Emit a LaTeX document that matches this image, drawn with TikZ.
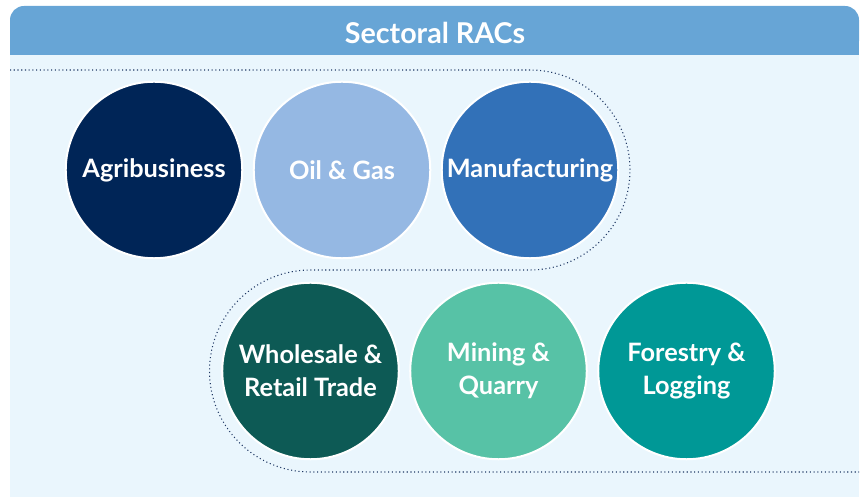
\documentclass[tikz,border=0pt]{standalone}
\usepackage{fontspec}
\setmainfont{Lato}
\usepackage{tikz}
\usetikzlibrary{positioning,calc}
\definecolor{headblue}{HTML}{67A5D6}
\definecolor{panelblue}{HTML}{EAF6FD}
\definecolor{agricol}{HTML}{002557}
\definecolor{oilcol}{HTML}{95B8E3}
\definecolor{manucol}{HTML}{3271B8}
\definecolor{tradecol}{HTML}{0D5A55}
\definecolor{minecol}{HTML}{57C2A6}
\definecolor{forestcol}{HTML}{009896}
\definecolor{dotcol}{HTML}{1F3864}
\tikzset{
  sector/.style={circle, draw=white, line width=1.5pt, minimum size=132.4pt, inner sep=0pt, align=center, text=white, font=\fontsize{19}{24.5}\selectfont\bfseries},
  header/.style={fill=headblue, rounded corners=10.5pt},
  groupline/.style={dotted, line width=0.8pt, draw=dotcol},
}

\begin{document}
\begin{tikzpicture}[x=0.75pt, y=0.75pt]
  \useasboundingbox (0,0) rectangle (861,499);
  % PANEL AND HEADER
  \fill[panelblue] (10,2) rectangle (859,444);
  \fill[header] (10,444) -- (10,493) -- (859,493) -- (859,444) [sharp corners] -- cycle;
  \fill[headblue] (10,444) rectangle (859,470);
  \node[text=white, font=\fontsize{21.5}{24}\selectfont\bfseries] (title) at (435,466) {Sectoral RACs};

  % TOP ROW
  \node[sector, fill=agricol] (agri) at (154,329) {Agribusiness};
  \node[sector, fill=oilcol, right=7.1pt of agri] (oil) {Oil \& Gas};
  \node[sector, fill=manucol, right=7.1pt of oil] (manu) {Manufacturing};

  % BOTTOM ROW
  \node[sector, fill=tradecol] (trade) at (310.5,128) {Wholesale \&\\Retail Trade};
  \node[sector, fill=minecol, right=7.1pt of trade] (mine) {Mining \&\\Quarry};
  \node[sector, fill=forestcol, right=7.1pt of mine] (forest) {Forestry \&\\Logging};

  % DOTTED GROUPING LINE
  \draw[groupline] (10,429) -- (manu.center |- 0,429)
    arc[start angle=90, end angle=-90, radius=75pt]
    -- (trade.center |- 0,229)
    arc[start angle=90, end angle=270, radius=75.75pt]
    -- (859,27);
\end{tikzpicture}
\end{document}
